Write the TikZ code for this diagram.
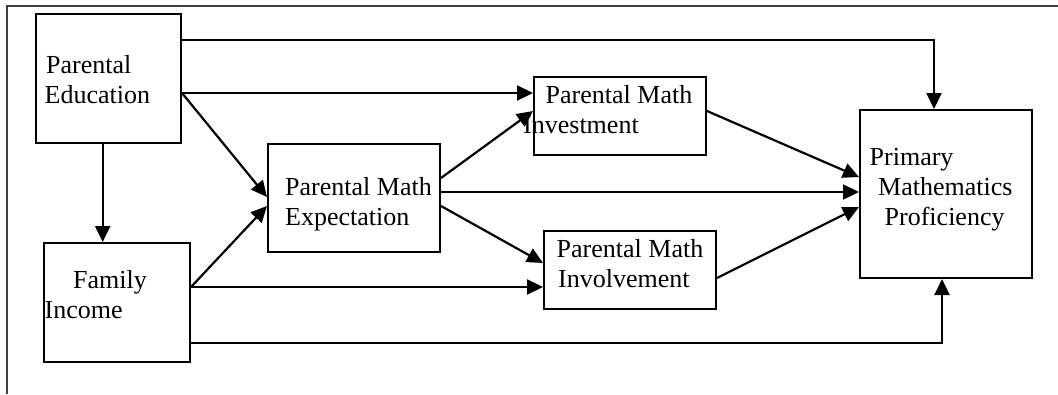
\documentclass[tikz,border=0pt]{standalone}
\usepackage{fontspec}
\setmainfont{Liberation Serif}
\usetikzlibrary{arrows.meta}
\begin{document}
\begin{tikzpicture}[x=1pt,y=-1pt,
  box/.style={draw,line width=2pt,inner sep=0pt,minimum width=#1},
  lbl/.style={anchor=base west,inner sep=0pt,font=\fontsize{26}{30}\selectfont},
  conn/.style={line width=2.2pt,-{Triangle[length=16pt,width=15pt]}},
  frame/.style={line width=1.2pt,draw=black!75}]
\useasboundingbox (0,0) rectangle (1058,394);
\draw[frame] (7,394) -- (7,6) -- (1058,6);
% boxes
\node[box=145pt,minimum height=129pt] (pe) at (108.5,78.5) {};
\node[box=146pt,minimum height=119pt] (fi) at (117,302.5) {};
\node[box=172pt,minimum height=108pt] (ex) at (354,198) {};
\node[box=172pt,minimum height=78pt] (inv) at (620,116) {};
\node[box=172pt,minimum height=78pt] (invl) at (630,270) {};
\node[box=172pt,minimum height=168pt] (prof) at (946,194) {};
% texts
\node[lbl] (t1) at (46,73) {Parental};
\node[lbl] (t2) at (44.5,103) {Education};
\node[lbl] (t3) at (73,288) {Family};
\node[lbl] (t4) at (44.5,318) {Income};
\node[lbl] (t5) at (285,195) {Parental Math};
\node[lbl] (t6) at (285,225) {Expectation};
\node[lbl] (t7) at (545.5,103) {Parental Math};
\node[lbl] (t8) at (523,133) {Investment};
\node[lbl] (t9) at (556.5,257) {Parental Math};
\node[lbl] (t10) at (558,287) {Involvement};
\node[lbl] (t11) at (869.5,165) {Primary};
\node[lbl] (t12) at (878,195) {Mathematics};
\node[lbl] (t13) at (884.5,225) {Proficiency};
% connectors
\draw[conn] (pe.east |- 0,40) -| (934,0 |- prof.north);
\draw[conn] (pe.east |- 0,93) -- (inv.west |- 0,93);
\draw[conn] (pe.east |- 0,93) -- (ex.west |- 0,197);
\draw[conn] (pe.south -| 102.7,0) -- (fi.north -| 102.7,0);
\draw[conn] (fi.east |- 0,287) -- (ex.west |- 0,206);
\draw[conn] (fi.east |- 0,287) -- (invl.west |- 0,287);
\draw[conn] (fi.east |- 0,343) -| (942,0 |- prof.south);
\draw[conn] (ex.east |- 0,178) -- (inv.west |- 0,111);
\draw[conn] (ex.east |- 0,192) -- (prof.west |- 0,192);
\draw[conn] (ex.east |- 0,206) -- (invl.west |- 0,263);
\draw[conn] (inv.east |- 0,111) -- (prof.west |- 0,177);
\draw[conn] (invl.east |- 0,278) -- (prof.west |- 0,207);
\end{tikzpicture}
\end{document}
